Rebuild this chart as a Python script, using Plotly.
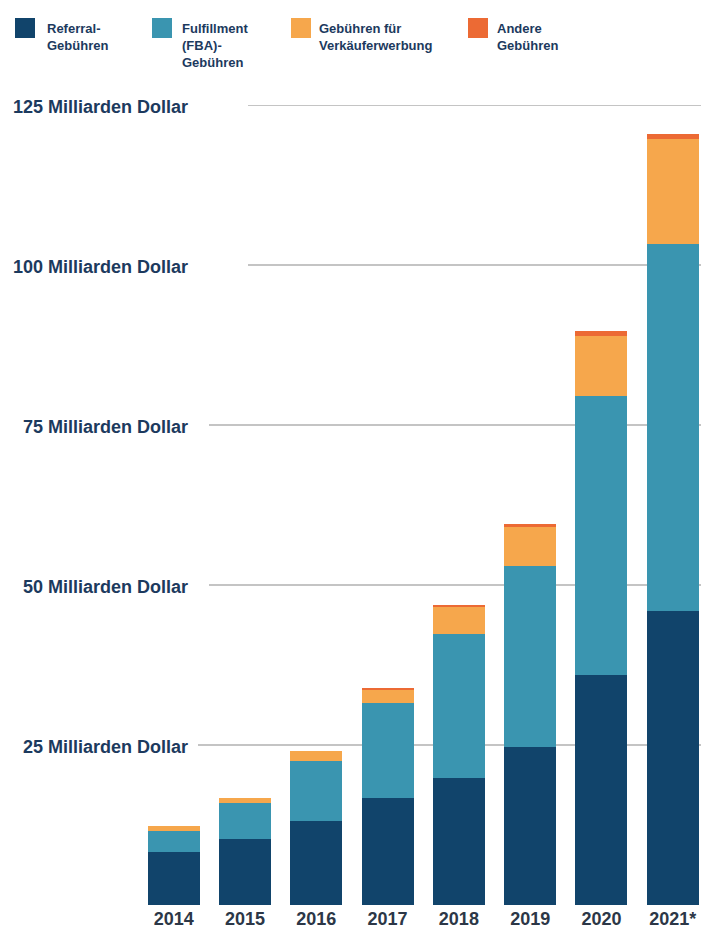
import plotly.graph_objects as go

# ---- data (billions of US dollars) ----
years = ["2014", "2015", "2016", "2017", "2018", "2019", "2020", "2021*"]
referral = [8.3, 10.3, 13.2, 16.7, 19.8, 24.7, 36.0, 46.0]
fulfillment = [3.2, 5.6, 9.3, 14.8, 22.5, 28.2, 43.5, 57.3]
advertising = [0.8, 0.8, 1.6, 2.2, 4.4, 6.2, 9.4, 16.4]
other = [0.0, 0.0, 0.0, 0.15, 0.15, 0.45, 0.8, 0.7]
series_names = ["Referral-<br>Gebühren", "Fulfillment<br>(FBA)-<br>Gebühren",
                "Gebühren für<br>Verkäuferwerbung", "Andere<br>Gebühren"]
tick_values = [25, 50, 75, 100, 125]
tick_labels = ["25 Milliarden Dollar", "50 Milliarden Dollar", "75 Milliarden Dollar",
               "100 Milliarden Dollar", "125 Milliarden Dollar"]

# ---- style ----
W, H = 701, 930
ML, MR, MT, MB = 138, 0, 105, 25
PW, PH = W - ML - MR, H - MT - MB
colors = ["#11446b", "#3a95b0", "#f6a74c", "#ec6a34"]
text_navy = "#1c3a5e"
FONT = "Liberation Sans, Arial, sans-serif"

def px_x(px):
    return (px - ML) / PW

def px_y(py):
    return (H - MB - py) / PH

fig = go.Figure()
for vals, col in zip([referral, fulfillment, advertising, other], colors):
    fig.add_trace(go.Bar(x=years, y=vals, marker=dict(color=col, line=dict(width=0)),
                         showlegend=False))

shapes = []
annotations = []

# gridlines + y labels
grid_start_px = {25: 198, 50: 209, 75: 209, 100: 248, 125: 248}
for v, lab in zip(tick_values, tick_labels):
    shapes.append(dict(type="line", xref="paper", yref="y", x0=px_x(grid_start_px[v]), x1=1,
                       y0=v, y1=v, line=dict(color="#c4c4c4", width=2), layer="below"))
    annotations.append(dict(xref="paper", yref="y", x=px_x(190), y=v, xanchor="right",
                            yanchor="middle", yshift=-2, text=lab, showarrow=False,
                            font=dict(family=FONT, size=18, color=text_navy, weight="bold")))

# manual legend
legend_sq_px = [15, 152, 291, 468]
legend_tx_px = [45, 180, 317, 495]
for name, col, sx, tx in zip(series_names, colors, legend_sq_px, legend_tx_px):
    shapes.append(dict(type="rect", xref="paper", yref="paper", x0=px_x(sx), x1=px_x(sx + 20),
                       y0=px_y(38), y1=px_y(18), fillcolor=col, line=dict(width=0)))
    annotations.append(dict(xref="paper", yref="paper", x=px_x(tx), y=px_y(19), xanchor="left",
                            yanchor="top", align="left", text=name, showarrow=False,
                            font=dict(family=FONT, size=13, color=text_navy, weight="bold")))

fig.update_layout(
    width=W, height=H,
    margin=dict(l=ML, r=MR, t=MT, b=MB, pad=0),
    barmode="stack",
    bargap=0.27,
    plot_bgcolor="white",
    paper_bgcolor="white",
    xaxis=dict(range=[-0.5, 7.396], showgrid=False, zeroline=False,
               showline=False, ticks="", ticklabelstandoff=1, automargin=False,
               tickfont=dict(family=FONT, size=18, color="#2c3747", weight="bold")),
    yaxis=dict(range=[0, 125], showgrid=False, zeroline=False,
               showticklabels=False, showline=False, automargin=False),
    shapes=shapes,
    annotations=annotations,
)

fig.write_html("out.html")
